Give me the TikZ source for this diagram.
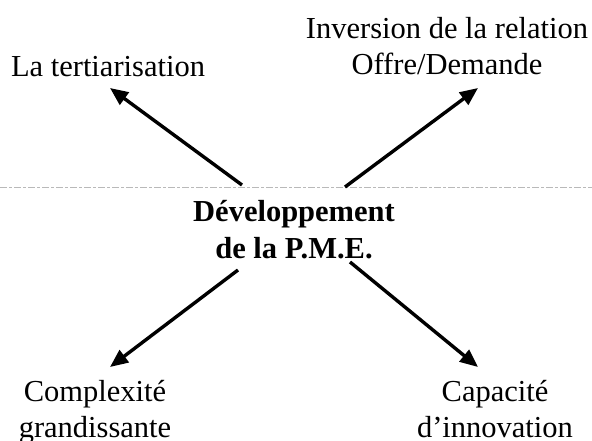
\documentclass[tikz,border=0pt]{standalone}
\usepackage{fontspec}
\setmainfont{Liberation Serif}
\usetikzlibrary{arrows.meta}
\tikzset{
  lbl/.style={inner sep=0pt, anchor=base, align=center, font=\fontsize{30.5}{36}\selectfont},
  ctr/.style={lbl, font=\fontsize{30.5}{36}\selectfont\bfseries},
  arr/.style={line width=3.4pt, -{Triangle[length=18pt,width=15pt]}},
  scan/.style={gray!55, line width=0.9pt, dash pattern=on 7pt off 2pt on 3pt off 2pt}
}
\begin{document}
\begin{tikzpicture}[x=1pt,y=-1pt]
\useasboundingbox (0,0) rectangle (592,441);
\draw[scan] (0,187) -- (592,187);
\node[lbl] (tert) at (108,77) {La tertiarisation};
\node[lbl] (inv) at (447,75) {Inversion de la relation\\Offre/Demande};
\node[ctr] (dev) at (294,258) {Développement\\de la P.M.E.};
\node[lbl] (comp) at (95,437) {Complexité\\grandissante};
\node[lbl] (cap) at (495,437) {Capacité\\d’innovation};
\coordinate (a1s) at (242,185); \coordinate (a1e) at (110,88);
\coordinate (a2s) at (345,187); \coordinate (a2e) at (478,88);
\coordinate (a3s) at (238,270); \coordinate (a3e) at (110,367);
\coordinate (a4s) at (350,262); \coordinate (a4e) at (478,367);
\draw[arr] (a1s) -- (a1e);
\draw[arr] (a2s) -- (a2e);
\draw[arr] (a3s) -- (a3e);
\draw[arr] (a4s) -- (a4e);
\end{tikzpicture}
\end{document}
